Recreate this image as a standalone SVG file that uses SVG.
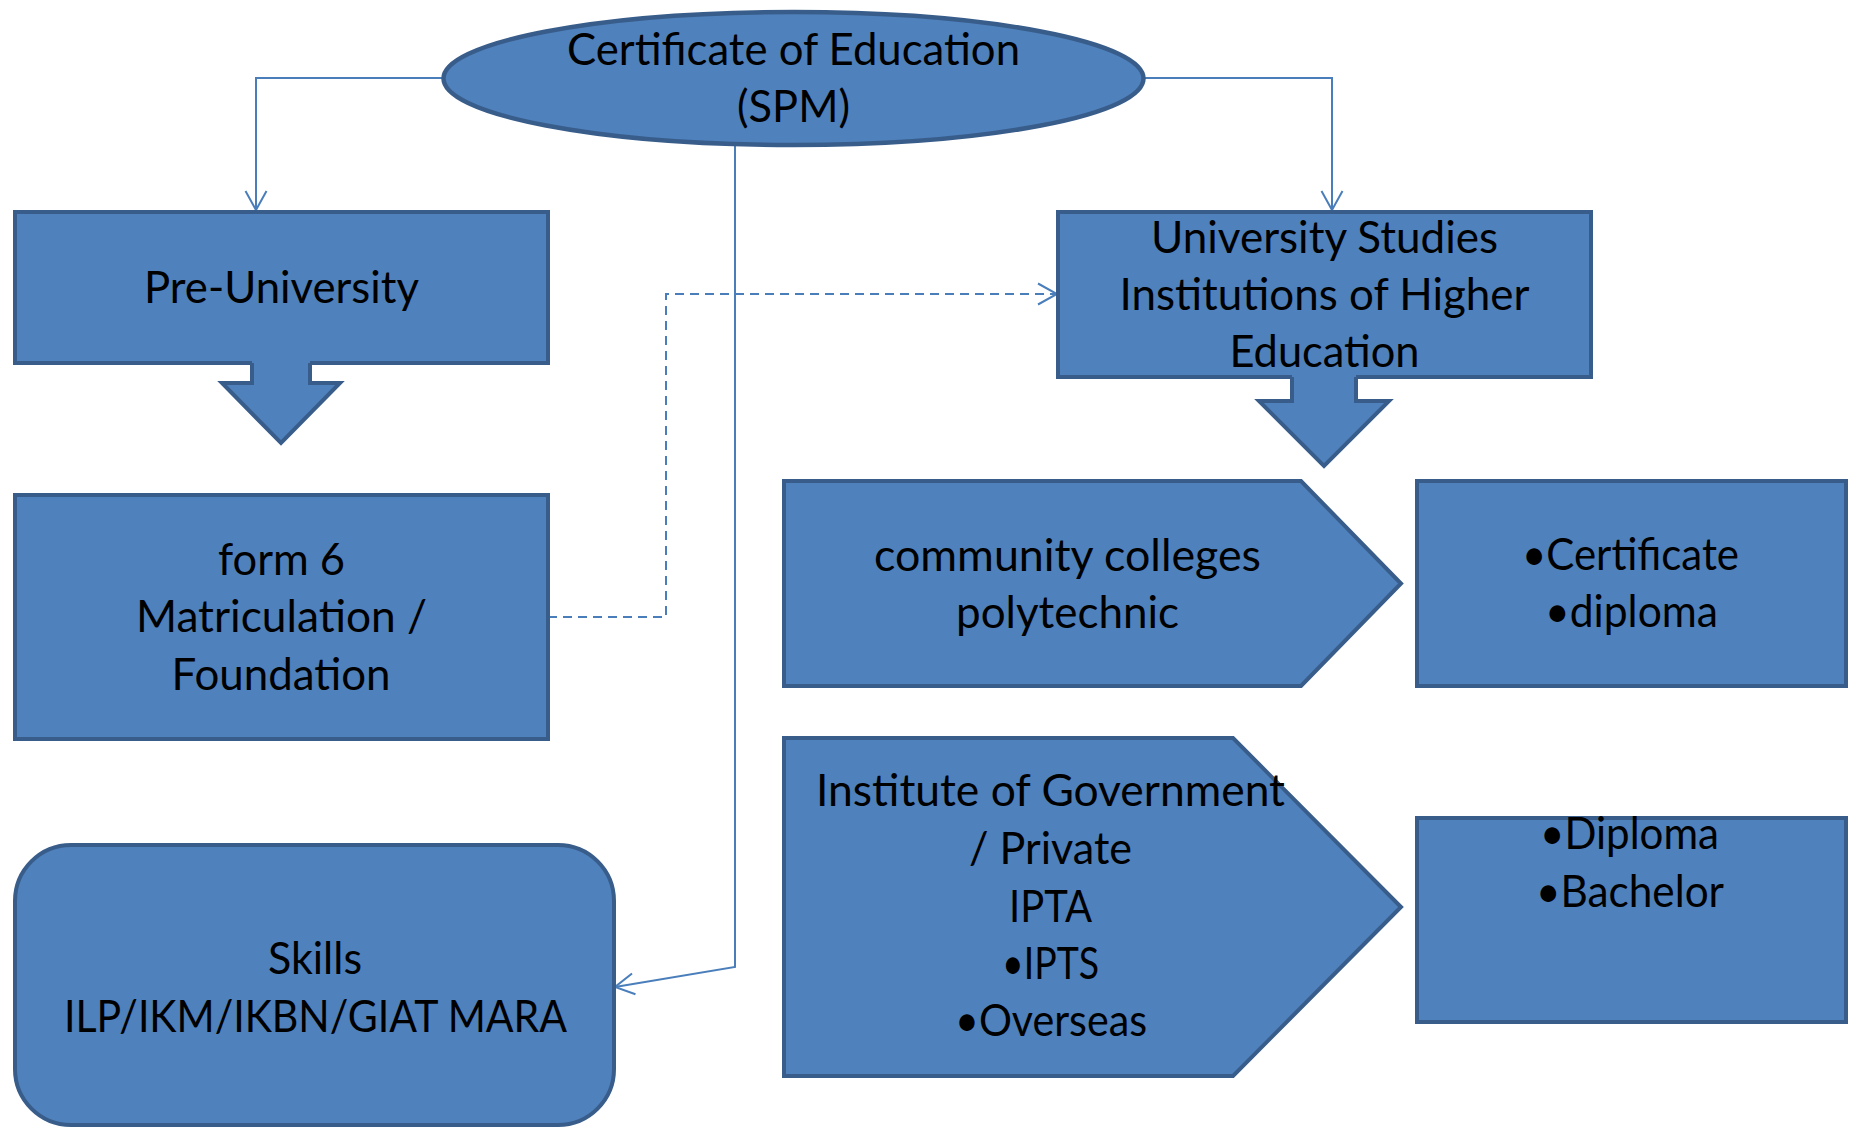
<svg xmlns="http://www.w3.org/2000/svg" width="1849" height="1128" viewBox="0 0 1849 1128">
<style>
.shape{fill:#4F81BD;stroke:#385D8A;stroke-width:4;stroke-linejoin:miter}
.edge{fill:#4F81BD;stroke:none}
.bord{fill:none;stroke:#385D8A;stroke-width:4;stroke-linejoin:miter}
.conn{fill:none;stroke:#4A7EBB;stroke-width:2}
.dash{stroke-dasharray:9 6}
text{font-family:Lato,"Liberation Sans",sans-serif;font-size:44px;fill:#000;text-anchor:middle}
</style>
<defs>
<marker id="open" markerWidth="22" markerHeight="24" refX="20" refY="12" orient="auto" markerUnits="userSpaceOnUse">
<path d="M1,1.5 L20,12 L1,22.5" fill="none" stroke="#4A7EBB" stroke-width="2"/>
</marker>
</defs>
<rect width="1849" height="1128" fill="#fff"/>
<g id="connectors">
<polyline class="conn" points="443,78 256,78 256,210" marker-end="url(#open)"/>
<polyline class="conn" points="1144,78 1332,78 1332,210" marker-end="url(#open)"/>
<polyline class="conn" points="735,145 735,967 615,987" marker-end="url(#open)"/>
<polyline class="conn dash" points="548,617 666,617 666,294 1057,294" marker-end="url(#open)"/>
</g>
<g id="spm">
<ellipse class="shape" cx="793.5" cy="78.5" rx="350" ry="66.5" style="stroke-width:4.5"/>
<text x="793.5" y="65" textLength="453" lengthAdjust="spacingAndGlyphs">Certificate of Education</text>
<text x="793.5" y="122" textLength="113" lengthAdjust="spacingAndGlyphs">(SPM)</text>
</g>
<g id="pre-university">
<rect class="shape" x="15" y="212" width="533" height="151"/>
<polygon class="edge" points="252,361 310,361 310,383 340,383 281,443 222,383 252,383"/>
<polyline class="bord" points="252,363 252,383 222,383 281,443 340,383 310,383 310,363"/>
<text x="281.5" y="303" textLength="275" lengthAdjust="spacingAndGlyphs">Pre-University</text>
</g>
<g id="university">
<rect class="shape" x="1058" y="212" width="533" height="165"/>
<polygon class="edge" points="1292,375 1356,375 1356,401 1389,401 1324,466 1259,401 1292,401"/>
<polyline class="bord" points="1292,377 1292,401 1259,401 1324,466 1389,401 1356,401 1356,377"/>
<text x="1324.5" y="253" textLength="347" lengthAdjust="spacingAndGlyphs">University Studies</text>
<text x="1324.5" y="310" textLength="410" lengthAdjust="spacingAndGlyphs">Institutions of Higher</text>
<text x="1324.5" y="367" textLength="190" lengthAdjust="spacingAndGlyphs">Education</text>
</g>
<g id="form6">
<rect class="shape" x="15" y="495" width="533" height="244"/>
<text x="281.5" y="575" textLength="127" lengthAdjust="spacingAndGlyphs">form 6</text>
<text x="281.5" y="632" textLength="291" lengthAdjust="spacingAndGlyphs">Matriculation /</text>
<text x="281" y="690" textLength="219" lengthAdjust="spacingAndGlyphs">Foundation</text>
</g>
<g id="skills">
<rect class="shape" x="15" y="845" width="599" height="280" rx="56" ry="56"/>
<text x="315" y="974" textLength="94" lengthAdjust="spacingAndGlyphs">Skills</text>
<text x="315.5" y="1032" textLength="503" lengthAdjust="spacingAndGlyphs">ILP/IKM/IKBN/GIAT MARA</text>
</g>
<g id="community">
<polygon class="shape" points="784,481 1301,481 1401,583.5 1301,686 784,686"/>
<text x="1067.5" y="571" textLength="387" lengthAdjust="spacingAndGlyphs">community colleges</text>
<text x="1067.5" y="628" textLength="223" lengthAdjust="spacingAndGlyphs">polytechnic</text>
</g>
<g id="certificate-diploma">
<rect class="shape" x="1417" y="481" width="429" height="205"/>
<text x="1630.5" y="570" textLength="217" lengthAdjust="spacingAndGlyphs">•Certificate</text>
<text x="1631.5" y="627" textLength="173" lengthAdjust="spacingAndGlyphs">•diploma</text>
</g>
<g id="institute">
<polygon class="shape" points="784,738 1233,738 1401,907 1233,1076 784,1076"/>
<text x="1050.5" y="806" textLength="469" lengthAdjust="spacingAndGlyphs">Institute of Government</text>
<text x="1050.5" y="864" textLength="163" lengthAdjust="spacingAndGlyphs">/ Private</text>
<text x="1050.5" y="922" textLength="83" lengthAdjust="spacingAndGlyphs">IPTA</text>
<text x="1050.5" y="979" textLength="97" lengthAdjust="spacingAndGlyphs">•IPTS</text>
<text x="1051" y="1036" textLength="192" lengthAdjust="spacingAndGlyphs">•Overseas</text>
</g>
<g id="diploma-bachelor">
<rect class="shape" x="1417" y="818" width="429" height="204"/>
<text x="1629.5" y="849" textLength="179" lengthAdjust="spacingAndGlyphs">•Diploma</text>
<text x="1630" y="907" textLength="188" lengthAdjust="spacingAndGlyphs">•Bachelor</text>
</g>
</svg>
